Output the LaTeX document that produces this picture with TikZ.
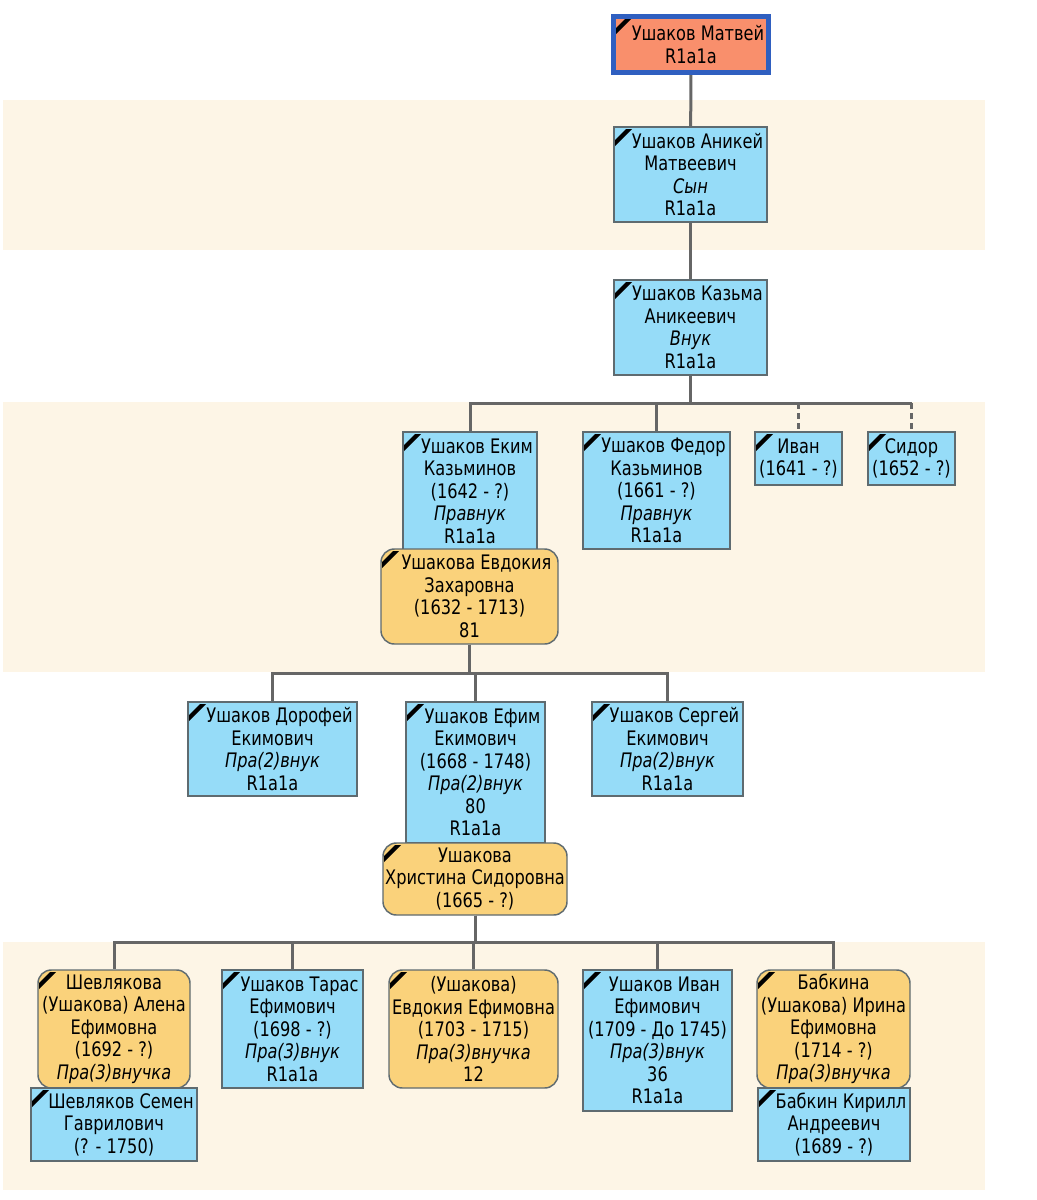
\documentclass[tikz,border=0pt]{standalone}
\usepackage{fontspec}
\setmainfont{DejaVu Sans}[FakeStretch=0.81]

\definecolor{band}{HTML}{FDF5E6}
\definecolor{manfill}{HTML}{96DCF8}
\definecolor{womanfill}{HTML}{FAD27B}
\definecolor{rootfill}{HTML}{F98F6C}
\definecolor{rootline}{HTML}{2F5FC0}
\definecolor{linkgray}{HTML}{666666}
\definecolor{boxline}{HTML}{5F6B70}
\newcommand{\pad}{\hspace*{10.5pt}}

\begin{document}
\begin{tikzpicture}[
  x=0.75pt, y=-0.75pt,
  wh/.style 2 args={minimum width=#1*0.75pt, minimum height=#2*0.75pt},
  person/.style={draw=boxline, line width=1.1pt, inner sep=0pt, align=center,
    font=\fontsize{15}{16.9}\selectfont,
    path picture={\fill[black,sharp corners] ([shift={(1,13)}]path picture bounding box.north west)
      -- ++(0,6) -- ++(17,-17) -- ++(-6,0) -- cycle;}},
  male/.style={person, fill=manfill},
  female/.style={person, fill=womanfill, rounded corners=10pt},
  link/.style={draw=linkgray, line width=2.25pt},
  ]
\useasboundingbox[fill=white] (0,0) rectangle (1037,1200);
% generation bands
\fill[band] (3,100) rectangle (985,250);
\fill[band] (3,402) rectangle (985,672);
\fill[band] (3,942) rectangle (985,1190);
\coordinate (bus1) at (0,403);
\coordinate (bus2) at (0,673);
\coordinate (bus3) at (0,942);

\node[person, fill=rootfill, draw=rootline, line width=3.75pt, wh={155}{56}] (matvey) at (691,44.5) {\pad Ушаков Матвей\\R1a1a};
\node[male, wh={153}{95}] (aniky) at (690.5,174.5) {\pad Ушаков Аникей\\Матвеевич\\\textit{Сын}\\R1a1a};
\node[male, wh={153}{95}] (kazma) at (690.5,327.5) {\pad Ушаков Казьма\\Аникеевич\\\textit{Внук}\\R1a1a};

\node[male, wh={134}{118}] (ekim) at (470,491) {\pad Ушаков Еким\\Казьминов\\(1642 - ?)\\\textit{Правнук}\\R1a1a};
\node[female, wh={177}{95}] (evdokia) at (469.5,596.5) {\pad Ушакова Евдокия\\Захаровна\\(1632 - 1713)\\81};
\node[male, wh={147}{117}] (fedor) at (656.5,490.5) {\pad Ушаков Федор\\Казьминов\\(1661 - ?)\\\textit{Правнук}\\R1a1a};
\node[male, wh={87}{53}] (ivan) at (798.5,458.5) {Иван\\(1641 - ?)};
\node[male, wh={87}{53}] (sidor) at (911.5,458.5) {Сидор\\(1652 - ?)};

\node[male, wh={169}{94}] (dorofey) at (272.5,749) {\pad Ушаков Дорофей\\Екимович\\\textit{Пра(2)внук}\\R1a1a};
\node[male, wh={139}{141}] (efim) at (475.5,772.5) {\pad Ушаков Ефим\\Екимович\\(1668 - 1748)\\\textit{Пра(2)внук}\\80\\R1a1a};
\node[female, wh={184}{72}] (khristina) at (475,879) {Ушакова\\Христина Сидоровна\\(1665 - ?)};
\node[male, wh={151}{94}] (sergey) at (667.5,749) {\pad Ушаков Сергей\\Екимович\\\textit{Пра(2)внук}\\R1a1a};

\node[female, wh={152}{118}] (alena) at (114,1029) {Шевлякова\\(Ушакова) Алена\\Ефимовна\\(1692 - ?)\\\textit{Пра(3)внучка}};
\node[male, wh={166}{73}] (semen) at (114,1124.5) {\pad Шевляков Семен\\Гаврилович\\(? - 1750)};
\node[male, wh={141}{118}] (taras) at (292.5,1029) {\pad Ушаков Тарас\\Ефимович\\(1698 - ?)\\\textit{Пра(3)внук}\\R1a1a};
\node[female, wh={169}{118}] (evdokiya) at (473.5,1029) {(Ушакова)\\Евдокия Ефимовна\\(1703 - 1715)\\\textit{Пра(3)внучка}\\12};
\node[male, wh={149}{141}] (ivanef) at (657.5,1040.5) {\pad Ушаков Иван\\Ефимович\\(1709 - До 1745)\\\textit{Пра(3)внук}\\36\\R1a1a};
\node[female, wh={153}{118}] (irina) at (833.5,1029) {Бабкина\\(Ушакова) Ирина\\Ефимовна\\(1714 - ?)\\\textit{Пра(3)внучка}};
\node[male, wh={152}{73}] (kirill) at (834,1124.5) {\pad Бабкин Кирилл\\Андреевич\\(1689 - ?)};

% links
\draw[link] (matvey) -- (aniky);
\draw[link] (aniky) -- (kazma);
\draw[link] (kazma.south) -- (kazma.south |- bus1) -| (ekim.north);
\draw[link] (kazma.south |- bus1) -| (fedor.north);
\draw[link] (kazma.south |- bus1) -- (sidor.north |- bus1);
\draw[link, dash pattern=on 4.5pt off 3pt] (ivan.north |- bus1) -- (ivan.north);
\draw[link, dash pattern=on 4.5pt off 3pt] (sidor.north |- bus1) -- (sidor.north);
\foreach \c in {dorofey,efim,sergey}
  \draw[link] (evdokia.south) -- (evdokia.south |- bus2) -| (\c.north);
\foreach \c in {alena,taras,evdokiya,ivanef,irina}
  \draw[link] (khristina.south) -- (khristina.south |- bus3) -| (\c.north);
\end{tikzpicture}
\end{document}
